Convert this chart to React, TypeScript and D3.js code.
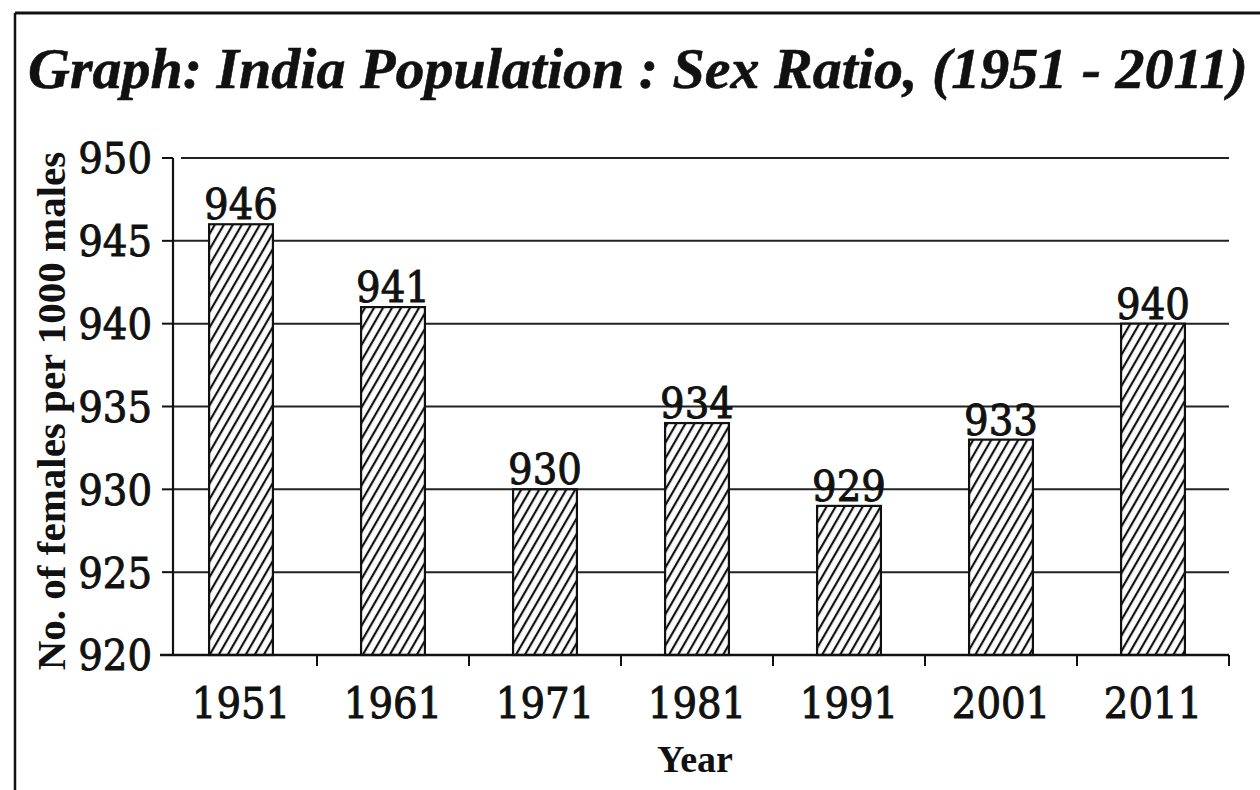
import * as d3 from 'd3';

const years = ['1951', '1961', '1971', '1981', '1991', '2001', '2011'];
const sexRatio = [946, 941, 930, 934, 929, 933, 940];
const yTicks = [920, 925, 930, 935, 940, 945, 950];

const W = 1260;
const H = 790;
const FONT = '"Liberation Serif", "Times New Roman", serif';
const NUM_FONT = '"DejaVu Serif Condensed", "DejaVu Serif", serif';

export default function App() {
  const plot = { left: 173, right: 1229, top: 158, bottom: 655 };

  const x = d3.scaleBand<string>()
    .domain(years)
    .range([165, 1229])
    .paddingInner(0.58)
    .paddingOuter(0.29);

  const y = d3.scaleLinear()
    .domain([920, 950])
    .range([plot.bottom, plot.top]);

  const step = x.step();
  // tick marks sit on the right edge of each year's slot
  const xTickPos = years.map(d => (x(d) ?? 0) + x.bandwidth() / 2 + step / 2);

  // the scan's digits are heavy, so give them a hairline outline
  const numStyle = { stroke: '#111', strokeWidth: 0.9 };

  return (
    <svg
      width={W}
      height={H}
      style={{ position: 'absolute', left: 0, top: 0, background: '#fff' }}
    >
      <defs>
        <pattern
          id="hatch"
          patternUnits="userSpaceOnUse"
          width={7.8}
          height={20}
          patternTransform="rotate(30)"
        >
          <rect width={7.8} height={20} fill="#fff" />
          <line x1={2} y1={0} x2={2} y2={20} stroke="#111" strokeWidth={2.2} />
        </pattern>
      </defs>

      {/* frame */}
      <line x1={15} y1={13} x2={W} y2={13} stroke="#111" strokeWidth={3} />
      <line x1={15} y1={13} x2={15} y2={H} stroke="#111" strokeWidth={2.5} />

      {/* title */}
      <text
        x={28}
        y={88}
        fontFamily={FONT}
        fontWeight="bold"
        fontStyle="italic"
        fontSize={58}
        fill="#111"
        stroke="#111"
        strokeWidth={0.6}
      >
        Graph: India Population : Sex Ratio, (1951 - 2011)
      </text>

      {/* gridlines */}
      {yTicks.slice(1).map(t => (
        <line
          key={'g' + t}
          x1={t === 950 ? plot.left + 8 : plot.left}
          x2={plot.right}
          y1={y(t)}
          y2={y(t)}
          stroke="#222"
          strokeWidth={2}
        />
      ))}

      {/* y axis */}
      <line x1={plot.left} x2={plot.left} y1={plot.top} y2={plot.bottom} stroke="#111" strokeWidth={2.2} />
      {yTicks.map(t => (
        <g key={'y' + t}>
          <line x1={plot.left - 11} x2={plot.left} y1={y(t)} y2={y(t)} stroke="#111" strokeWidth={2} />
          <text
            x={152}
            y={y(t)}
            dy="0.36em"
            textAnchor="end"
            fontFamily={NUM_FONT}
            fontSize={43}
            fill="#111"
            {...numStyle}
          >
            {t}
          </text>
        </g>
      ))}

      {/* bars */}
      {years.map((yr, i) => (
        <g key={'b' + yr}>
          <rect
            x={x(yr)}
            y={y(sexRatio[i])}
            width={x.bandwidth()}
            height={plot.bottom - y(sexRatio[i])}
            fill="url(#hatch)"
            stroke="#111"
            strokeWidth={2.2}
          />
          <text
            x={(x(yr) ?? 0) + x.bandwidth() / 2}
            y={y(sexRatio[i]) - 5}
            textAnchor="middle"
            fontFamily={NUM_FONT}
            fontSize={43}
            fill="#111"
            {...numStyle}
          >
            {sexRatio[i]}
          </text>
        </g>
      ))}

      {/* x axis */}
      <line x1={160} x2={plot.right} y1={plot.bottom} y2={plot.bottom} stroke="#111" strokeWidth={2.5} />
      {xTickPos.map((p, i) => (
        <line key={'xt' + i} x1={p} x2={p} y1={plot.bottom} y2={plot.bottom + 11} stroke="#111" strokeWidth={2} />
      ))}
      {years.map(yr => (
        <text
          key={'xl' + yr}
          x={(x(yr) ?? 0) + x.bandwidth() / 2}
          y={718}
          textAnchor="middle"
          fontFamily={NUM_FONT}
          fontSize={43}
          fill="#111"
          {...numStyle}
        >
          {yr}
        </text>
      ))}
      <text
        x={695}
        y={772}
        textAnchor="middle"
        fontFamily={FONT}
        fontWeight="bold"
        fontSize={38}
        fill="#111"
      >
        Year
      </text>

      {/* y axis title */}
      <text
        transform={`translate(65,${(150 + 672) / 2}) rotate(-90)`}
        textAnchor="middle"
        fontFamily={FONT}
        fontWeight="bold"
        fontSize={41}
        fill="#111"
      >
        No. of females per 1000 males
      </text>
    </svg>
  );
}
